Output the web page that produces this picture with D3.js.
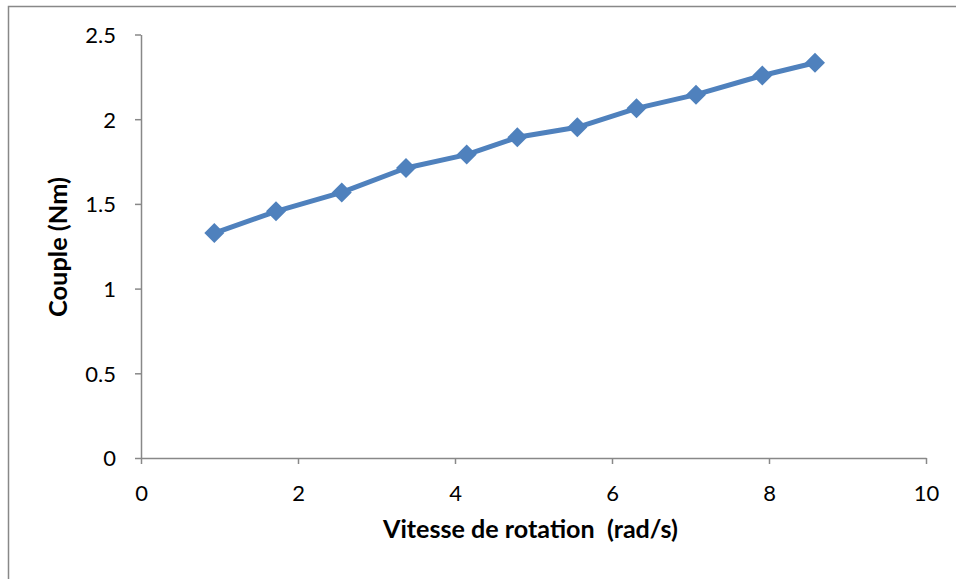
<!DOCTYPE html>
<html>
<head>
<meta charset="utf-8">
<script src="https://cdn.jsdelivr.net/npm/d3@7/dist/d3.min.js"></script>
<style>
  html, body { margin: 0; padding: 0; background: #fff; }
  svg { display: block; }
</style>
</head>
<body>
<svg id="chart" width="956" height="579"></svg>
<script>
const speed = [0.934, 1.720, 2.557, 3.376, 4.149, 4.794, 5.558, 6.312, 7.070, 7.915, 8.586];
const torque = [1.328, 1.456, 1.568, 1.712, 1.791, 1.893, 1.952, 2.064, 2.145, 2.258, 2.333];
const xTicks = [0, 2, 4, 6, 8, 10];
const yTicks = [0, 0.5, 1, 1.5, 2, 2.5];
const xTitle = "Vitesse de rotation\u00a0\u00a0(rad/s)";
const yTitle = "Couple (Nm)";

const svg = d3.select("#chart");
const font = "Lato, 'Open Sans', sans-serif";

// outer frame (only top and left edges visible in the picture)
svg.append("rect").attr("x", 8.5).attr("y", 6.5).attr("width", 1000).attr("height", 1000)
  .attr("fill", "none").attr("stroke", "#888").attr("stroke-width", 1.5);

const x = d3.scaleLinear().domain([0, 10]).range([141, 926]);
const y = d3.scaleLinear().domain([0, 2.5]).range([458, 34.5]);

const xAxis = svg.append("g").attr("transform", "translate(0,458)")
  .call(d3.axisBottom(x).tickValues(xTicks).tickSizeInner(6).tickSizeOuter(0).tickPadding(0).tickFormat(d3.format("")));
const yAxis = svg.append("g").attr("transform", "translate(141,0)")
  .call(d3.axisLeft(y).tickValues(yTicks).tickSizeInner(6).tickSizeOuter(0).tickPadding(19).tickFormat(d3.format("")));

[xAxis, yAxis].forEach(g => {
  g.select(".domain").attr("stroke", "#888").attr("stroke-width", 1.5);
  g.selectAll(".tick line").attr("stroke", "#888").attr("stroke-width", 1.5);
  g.selectAll(".tick text").attr("fill", "#000").attr("font-family", font).attr("font-size", 22);
});
xAxis.selectAll(".tick text").attr("dy", null).attr("y", 43);
yAxis.selectAll(".tick text").attr("dy", "0.36em");

const line = d3.line().x((d, i) => x(speed[i])).y(d => y(d));
svg.append("path").datum(torque).attr("d", line)
  .attr("fill", "none").attr("stroke", "#4F81BD").attr("stroke-width", 5)
  .attr("stroke-linejoin", "round");

const r = 10;
svg.selectAll(".pt").data(torque).enter().append("path")
  .attr("class", "pt")
  .attr("transform", (d, i) => `translate(${x(speed[i])},${y(d)})`)
  .attr("d", `M0,${-r}L${r},0L0,${r}L${-r},0Z`)
  .attr("fill", "#4F81BD");

function fitText(sel, target) {
  const w = sel.node().getComputedTextLength();
  const fs = parseFloat(sel.attr("font-size"));
  sel.attr("font-size", (fs * target / w).toFixed(2));
}

const xt = svg.append("text").attr("x", 530.5).attr("y", 538).attr("text-anchor", "middle")
  .attr("font-family", font).attr("font-weight", "bold").attr("font-size", 22)
  .text(xTitle);
fitText(xt, 295);

const yt = svg.append("text").attr("transform", "translate(67,247) rotate(-90)").attr("text-anchor", "middle")
  .attr("font-family", font).attr("font-weight", "bold").attr("font-size", 22)
  .text(yTitle);
fitText(yt, 140);
</script>
</body>
</html>
